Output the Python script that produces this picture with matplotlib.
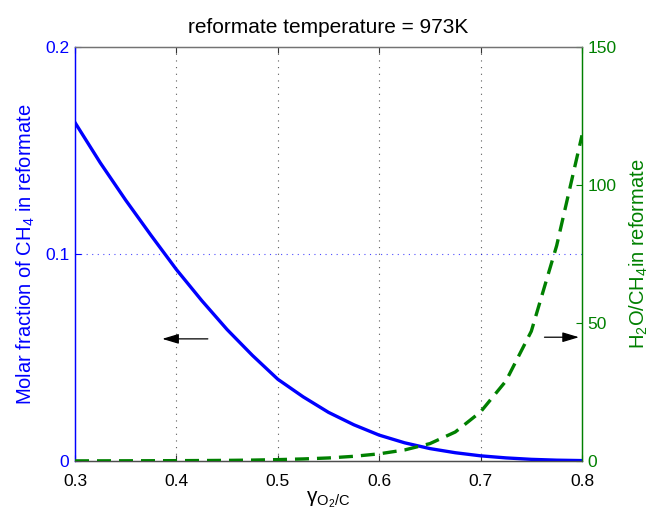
import matplotlib
matplotlib.use("Agg")
import matplotlib.pyplot as plt

plt.rcParams['font.family'] = ['Liberation Sans', 'DejaVu Sans']
plt.rcParams['mathtext.fontset'] = 'custom'
plt.rcParams['mathtext.rm'] = 'Liberation Sans'
plt.rcParams['mathtext.it'] = 'Liberation Sans:italic'
plt.rcParams['mathtext.bf'] = 'Liberation Sans:bold'

# ---- data ----
gamma = [0.300, 0.325, 0.350, 0.375, 0.400, 0.425, 0.450, 0.475, 0.500, 0.525,
         0.550, 0.575, 0.600, 0.625, 0.650, 0.675, 0.700, 0.725, 0.750, 0.775, 0.800]
ch4_fraction = [0.1635, 0.144, 0.126, 0.109, 0.0925, 0.0775, 0.0635, 0.051, 0.0395, 0.031,
                0.0235, 0.0175, 0.0125, 0.0088, 0.006, 0.004, 0.0025, 0.0015, 0.0008, 0.0004, 0.0002]
h2o_ch4_ratio = [0.05, 0.06, 0.08, 0.10, 0.13, 0.17, 0.23, 0.33, 0.5, 0.75,
                 1.1, 1.7, 2.6, 4.0, 6.3, 10.5, 17.8, 29.0, 47.0, 78.0, 118.0]

x_ticks = [0.3, 0.4, 0.5, 0.6, 0.7, 0.8]
left_ticks = [0, 0.1, 0.2]
right_ticks = [0, 50, 100, 150]

BLUE = (0, 0, 1)
GREEN = (0, 0.5, 0)

fig = plt.figure(figsize=(6.55, 5.22), dpi=100)
ax = fig.add_axes([75/655, 1-461/522, (582-75)/655, (461-47)/522])
ax2 = ax.twinx()

ax.plot(gamma, ch4_fraction, color=BLUE, lw=2.4, zorder=3)
ax2.plot(gamma, h2o_ch4_ratio, color=GREEN, lw=2.4, ls=(0, (4.2, 2.4)), zorder=3)

ax.set_xlim(0.3, 0.8)
ax.set_ylim(0, 0.2)
ax2.set_ylim(0, 150)
ax.set_xticks(x_ticks)
ax.set_xticklabels(['0.3', '0.4', '0.5', '0.6', '0.7', '0.8'])
ax.set_yticks(left_ticks)
ax.set_yticklabels(['0', '0.1', '0.2'])
ax2.set_yticks(right_ticks)
ax2.set_yticklabels(['0', '50', '100', '150'])

# grid
for xv in x_ticks[1:-1]:
    ax.axvline(xv, color='0.35', lw=0.8, ls=(0, (1, 5)), zorder=1)
ax.axhline(0.1, color=BLUE, lw=0.8, ls=(0, (1, 4)), alpha=0.7, zorder=1)

# ticks
ax.tick_params(axis='x', direction='in', top=True, labelsize=12.5, length=4,
               colors='0.2', labelcolor='black', pad=9)
ax.tick_params(axis='y', direction='in', labelsize=12.5, length=4, colors=BLUE, pad=4)
ax2.tick_params(axis='y', direction='in', labelsize=12.5, length=4, colors=GREEN, pad=4)

for a in (ax, ax2):
    a.spines['top'].set_color('0.45')
    a.spines['bottom'].set_color('0.3')
    a.spines['left'].set_color(BLUE)
    a.spines['right'].set_color(GREEN)
    for s in a.spines.values():
        s.set_linewidth(0.9)

ax.set_xlabel(r'$\mathregular{\gamma_{O_2/C}}$', fontsize=15, labelpad=1)
ax.set_ylabel(r'Molar fraction of CH$_4$ in reformate', color=BLUE, fontsize=14.5, labelpad=6)
ax2.set_ylabel(r'H$_2$O/CH$_4$in reformate', color=GREEN, fontsize=14.5, labelpad=8)
ax.set_title('reformate temperature = 973K', fontsize=15, pad=10)

# arrows
ax.annotate('', xy=(0.386, 0.059), xytext=(0.431, 0.059),
            arrowprops=dict(arrowstyle='-|>,head_length=1.0,head_width=0.3',
                            color='black', lw=0.9, shrinkA=0, shrinkB=0))
ax.annotate('', xy=(0.797, 0.0598), xytext=(0.763, 0.0598),
            arrowprops=dict(arrowstyle='-|>,head_length=1.0,head_width=0.3',
                            color='black', lw=0.9, shrinkA=0, shrinkB=0))

fig.savefig('out.png', dpi=100)
